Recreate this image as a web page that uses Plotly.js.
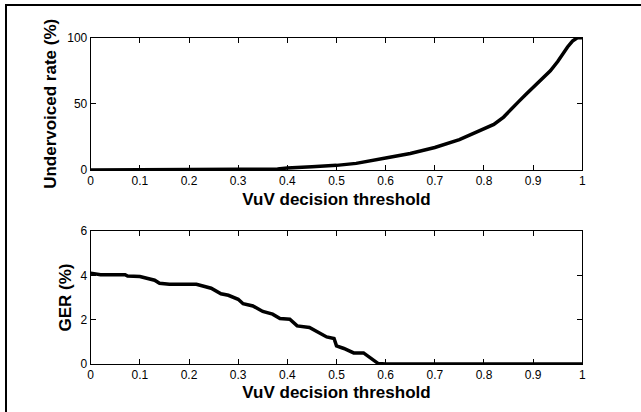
<!DOCTYPE html>
<html>
<head>
<meta charset="utf-8">
<script src="https://cdn.plot.ly/plotly-3.0.1.min.js"></script>
<style>html,body{margin:0;padding:0;background:#fff;}#chart{width:641px;height:412px;}</style>
</head>
<body>
<div id="chart"></div>
<script>
// Top panel: undervoiced rate (%) vs VuV decision threshold
const thrTop = [0, 0.1, 0.2, 0.21, 0.3, 0.38, 0.4, 0.45, 0.5, 0.54, 0.56, 0.6, 0.65, 0.7, 0.75, 0.8, 0.82, 0.84, 0.855, 0.87, 0.885, 0.9, 0.92, 0.935, 0.95, 0.96, 0.97, 0.98, 0.99, 1];
const undervoiced = [0, 0, 0, 0.4, 0.5, 0.8, 1.5, 2.5, 3.5, 5, 6.5, 9, 12.5, 17, 23, 31, 34.5, 40, 46, 51.5, 57, 62.5, 69, 75, 82, 88, 93, 97.5, 100, 100];

// Bottom panel: GER (%) vs VuV decision threshold
const thrBot = [0, 0.02, 0.07, 0.075, 0.1, 0.115, 0.13, 0.14, 0.16, 0.215, 0.23, 0.245, 0.265, 0.28, 0.3, 0.31, 0.33, 0.35, 0.37, 0.385, 0.405, 0.42, 0.445, 0.46, 0.48, 0.495, 0.5, 0.515, 0.535, 0.555, 0.57, 0.585, 0.6, 1];
const ger = [4.1, 4.03, 4.03, 3.97, 3.95, 3.86, 3.78, 3.64, 3.6, 3.6, 3.5, 3.42, 3.17, 3.1, 2.92, 2.72, 2.62, 2.37, 2.25, 2.05, 2.02, 1.72, 1.65, 1.47, 1.22, 1.15, 0.82, 0.7, 0.5, 0.5, 0.27, 0.02, 0, 0];

const xTickVals = [0, 0.1, 0.2, 0.3, 0.4, 0.5, 0.6, 0.7, 0.8, 0.9, 1];
const xTickText = ['0', '0.1', '0.2', '0.3', '0.4', '0.5', '0.6', '0.7', '0.8', '0.9', '1'];
const yTopTicks = [0, 50, 100];
const yBotTicks = [0, 2, 4, 6];
const xTitle = 'VuV decision threshold';
const yTopTitle = 'Undervoiced rate (%)';
const yBotTitle = 'GER (%)';

const W = 641, H = 412;
const px = v => v / W;
const py = v => (H - v) / H;

const FONT = 'Liberation Sans, Arial, sans-serif';
const tickFont = {family: FONT, size: 12, color: '#000'};
const titleFont = {family: FONT, size: 17, color: '#000', weight: 'bold'};

const axisCommon = {
  showline: true, linecolor: '#000', linewidth: 1, mirror: 'ticks',
  ticks: 'inside', ticklen: 5, tickcolor: '#000', tickwidth: 1,
  showgrid: false, zeroline: false, tickfont: tickFont, fixedrange: true
};

const traces = [
  {x: thrTop, y: undervoiced, type: 'scatter', mode: 'lines', xaxis: 'x', yaxis: 'y',
   line: {color: '#000', width: 3.5}, hoverinfo: 'skip'},
  {x: thrBot, y: ger, type: 'scatter', mode: 'lines', xaxis: 'x2', yaxis: 'y2',
   line: {color: '#000', width: 3.5}, hoverinfo: 'skip'}
];

const layout = {
  width: W, height: H,
  margin: {l: 0, r: 0, t: 0, b: 0},
  paper_bgcolor: '#fff', plot_bgcolor: '#fff',
  showlegend: false,
  xaxis: Object.assign({}, axisCommon, {
    domain: [px(90.7), px(582.3)], range: [0, 1], anchor: 'y',
    tickvals: xTickVals, ticktext: xTickText,
    title: {text: xTitle, font: titleFont, standoff: 5}
  }),
  yaxis: Object.assign({}, axisCommon, {
    domain: [py(170), py(37.7)], range: [0, 100], anchor: 'x',
    tickvals: yTopTicks,
    title: {text: yTopTitle, font: titleFont, standoff: 6}
  }),
  xaxis2: Object.assign({}, axisCommon, {
    domain: [px(90.7), px(582.3)], range: [0, 1], anchor: 'y2',
    tickvals: xTickVals, ticktext: xTickText,
    title: {text: xTitle, font: titleFont, standoff: 4}
  }),
  yaxis2: Object.assign({}, axisCommon, {
    domain: [py(364), py(231)], range: [0, 6], anchor: 'x2',
    tickvals: yBotTicks,
    title: {text: yBotTitle, font: titleFont, standoff: 4}
  }),
  shapes: [
    {type: 'line', xref: 'paper', yref: 'paper', x0: px(5), x1: 1, y0: py(5), y1: py(5), line: {color: '#000', width: 2}},
    {type: 'line', xref: 'paper', yref: 'paper', x0: px(6), x1: px(6), y0: py(5), y1: 0, line: {color: '#000', width: 2}}
  ]
};

Plotly.newPlot('chart', traces, layout, {staticPlot: true, displayModeBar: false});
</script>
</body>
</html>
